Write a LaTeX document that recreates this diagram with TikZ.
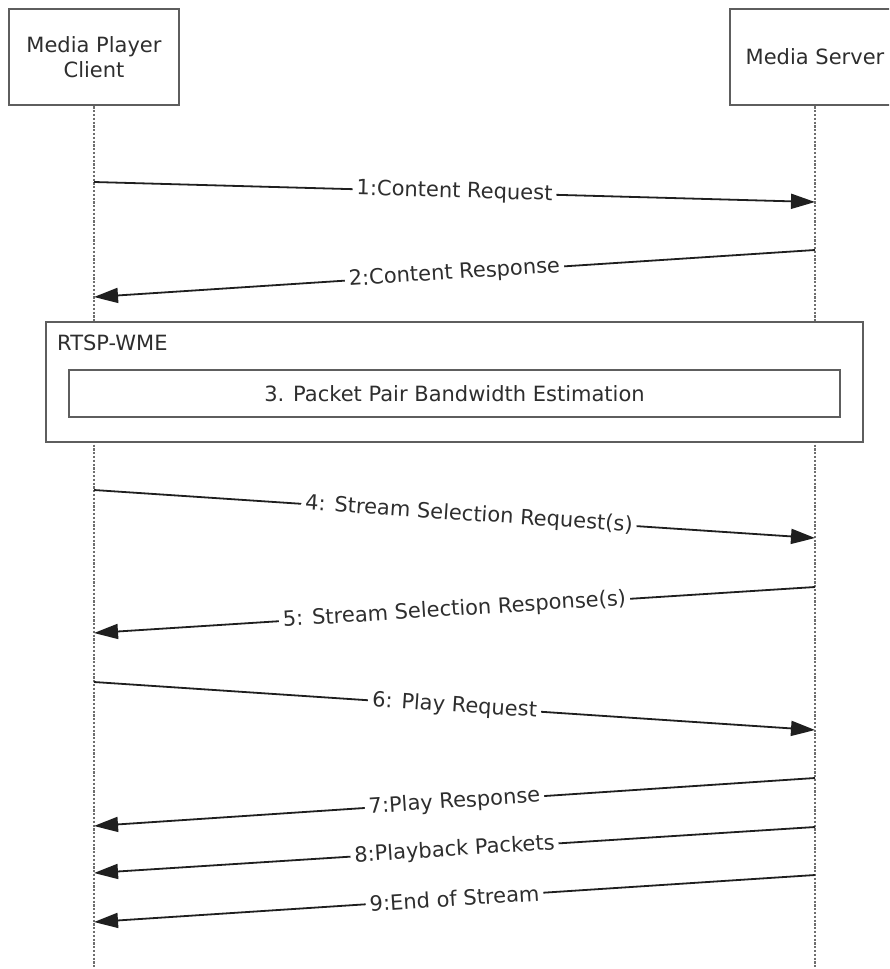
\documentclass[tikz,border=0pt]{standalone}
\usepackage{fontspec}
\setmainfont{DejaVu Sans}
\usetikzlibrary{arrows.meta}
\definecolor{boxline}{HTML}{5E5E5E}
\definecolor{txt}{HTML}{2E2E2E}
\definecolor{life}{HTML}{6E6E6E}
\tikzset{
  actor/.style={draw=boxline, line width=2.6pt, fill=white, minimum width=170pt, minimum height=96pt, align=center, text=txt, font=\fontsize{21}{25}\selectfont, inner sep=0pt},
  lifeline/.style={draw=life, line width=2.6pt, dash pattern=on 2.2pt off 1.6pt},
  msg/.style={draw=black!88, line width=1.8pt, -{Triangle[length=24pt,width=15pt]}},
  lbl/.style={sloped, fill=white, text=txt, inner sep=4pt, font=\fontsize{21}{25}\selectfont},
  frame/.style={draw=boxline, line width=2.6pt, fill=white},
}
\begin{document}
\begin{tikzpicture}[x=1pt,y=-1pt]
\clip (0,0) rectangle (889,969);
\fill[white] (0,0) rectangle (889,969);
% actors
\node[actor] (client) at (94,57) {Media Player\\Client};
\node[actor] (server) at (815,57) {Media Server};
% lifeline ends
\coordinate (cend) at (94,969);
\coordinate (send) at (815,969);
\draw[lifeline] (client.south) -- (cend);
\draw[lifeline] (server.south) -- (send);
% message points
\coordinate (c1) at (94,182);  \coordinate (s1) at (815,202);
\coordinate (s2) at (815,250); \coordinate (c2) at (94,297);
\coordinate (c4) at (94,490);  \coordinate (s4) at (815,538);
\coordinate (s5) at (815,587); \coordinate (c5) at (94,633);
\coordinate (c6) at (94,682);  \coordinate (s6) at (815,730);
\coordinate (s7) at (815,778); \coordinate (c7) at (94,826);
\coordinate (s8) at (815,827); \coordinate (c8) at (94,873);
\coordinate (s9) at (815,875); \coordinate (c9) at (94,922);
\draw[msg] (c1) -- node[lbl] {1:Content Request} (s1);
\draw[msg] (s2) -- node[lbl] {2:Content Response} (c2);
% combined fragment
\node[frame, minimum width=817pt, minimum height=120pt, inner sep=0pt] (rtsp) at (454.5,382) {};
\node[anchor=west, text=txt, font=\fontsize{21}{25}\selectfont, inner sep=0pt] (rtsplbl) at (57,343) {RTSP-WME};
\node[frame, minimum width=771pt, minimum height=47pt, inner sep=0pt, text=txt, font=\fontsize{21}{25}\selectfont] (ppbe) at (454.5,393.5) {3. Packet Pair Bandwidth Estimation};
\draw[msg] (c4) -- node[lbl, pos=0.52] {4: Stream Selection Request(s)} (s4);
\draw[msg] (s5) -- node[lbl] {5: Stream Selection Response(s)} (c5);
\draw[msg] (c6) -- node[lbl] {6: Play Request} (s6);
\draw[msg] (s7) -- node[lbl] {7:Play Response} (c7);
\draw[msg] (s8) -- node[lbl] {8:Playback Packets} (c8);
\draw[msg] (s9) -- node[lbl] {9:End of Stream} (c9);
\end{tikzpicture}
\end{document}
